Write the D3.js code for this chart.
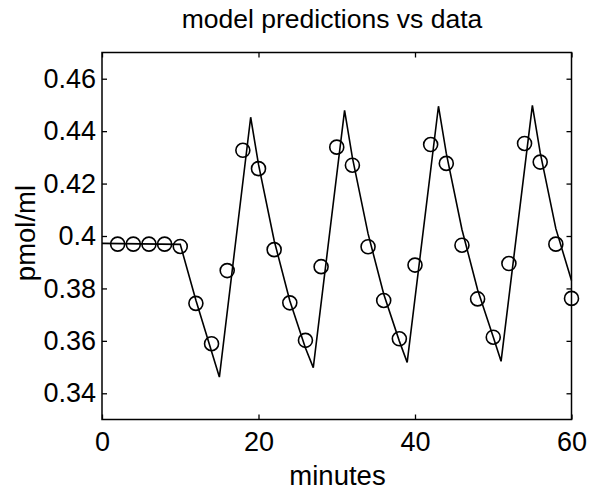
<!DOCTYPE html>
<html>
<head>
<meta charset="utf-8">
<script src="https://cdn.jsdelivr.net/npm/d3@7"></script>
<style>
    body { margin: 0; background: #fff; }
    text { font-family: "Liberation Sans", Arial, sans-serif; fill: #000; }
</style>
</head>
<body>
<div id="plot"></div>
<script>
// observed data (circles), sampled every 2 minutes
const dataMinutes = [2, 4, 6, 8, 10, 12, 14, 16, 18, 20, 22, 24, 26, 28, 30,
    32, 34, 36, 38, 40, 42, 44, 46, 48, 50, 52, 54, 56, 58, 60];
const dataValues = [0.3969, 0.3969, 0.3969, 0.3969, 0.3960, 0.3743, 0.3589, 0.3868, 0.4327, 0.4257,
    0.3948, 0.3745, 0.3602, 0.3883, 0.4339, 0.4270, 0.3959, 0.3754, 0.3608, 0.3889,
    0.4349, 0.4277, 0.3965, 0.3760, 0.3614, 0.3895, 0.4353, 0.4282, 0.3969, 0.3762];

// model prediction (line), read at its corners and along the decays
const modelMinutes = [0, 10, 12, 15, 19, 20, 22, 24, 26, 27, 31, 32, 34, 36, 38, 39,
    43, 44, 46, 48, 50, 51, 55, 56, 58, 60];
const modelValues = [0.3972, 0.3968, 0.3755, 0.3462, 0.4453, 0.4273, 0.3983, 0.3753, 0.3573, 0.3498,
    0.4479, 0.4299, 0.4009, 0.3779, 0.3599, 0.3518, 0.4495, 0.4315, 0.4025, 0.3795,
    0.3615, 0.3522, 0.4498, 0.4318, 0.4028, 0.3830];

const xTicks = [0, 20, 40, 60];
const yTicks = [0.34, 0.36, 0.38, 0.40, 0.42, 0.44, 0.46];

const W = 591, H = 495;
const margin = {top: 52.5, right: 19.5, bottom: 75.5, left: 102};
const width = W - margin.left - margin.right;
const height = H - margin.top - margin.bottom;

const svg = d3.select('#plot')
    .append('svg')
    .attr('width', W)
    .attr('height', H);

const g = svg.append('g')
    .attr('transform', `translate(${margin.left},${margin.top})`);

const x = d3.scaleLinear().domain([0, 60]).range([0, width]);
const y = d3.scaleLinear().domain([0.33, 0.47]).range([height, 0]);

const fmtY = d => d === 0.4 ? '0.4' : d3.format('.2f')(d);

// axes with inward ticks, matlab style
const axisStyle = sel => {
    sel.select('.domain').remove();
    sel.selectAll('line').attr('stroke', '#000').attr('stroke-width', 1.3);
};

g.append('g')
    .attr('transform', `translate(0,${height})`)
    .call(d3.axisBottom(x).tickValues(xTicks).tickSize(-5).tickPadding(12).tickFormat(d3.format('d')))
    .call(axisStyle)
    .selectAll('text')
    .attr('font-size', '27px');

g.append('g')
    .call(d3.axisTop(x).tickValues(xTicks).tickSize(-5).tickFormat(''))
    .call(axisStyle);

g.append('g')
    .call(d3.axisLeft(y).tickValues(yTicks).tickSize(-5).tickPadding(6).tickFormat(fmtY))
    .call(axisStyle)
    .selectAll('text')
    .attr('font-size', '27px');

g.append('g')
    .attr('transform', `translate(${width},0)`)
    .call(d3.axisRight(y).tickValues(yTicks).tickSize(-5).tickFormat(''))
    .call(axisStyle);

g.append('rect')
    .attr('width', width)
    .attr('height', height)
    .attr('fill', 'none')
    .attr('stroke', '#000')
    .attr('stroke-width', 1.5);

const modelData = modelMinutes.map((t, i) => ({t, v: modelValues[i]}));
const obsData = dataMinutes.map((t, i) => ({t, v: dataValues[i]}));

g.append('path')
    .datum(modelData)
    .attr('fill', 'none')
    .attr('stroke', '#000')
    .attr('stroke-width', 1.6)
    .attr('d', d3.line().x(d => x(d.t)).y(d => y(d.v)));

g.selectAll('.obs')
    .data(obsData)
    .enter()
    .append('circle')
    .attr('class', 'obs')
    .attr('cx', d => x(d.t))
    .attr('cy', d => y(d.v))
    .attr('r', 7)
    .attr('fill', 'none')
    .attr('stroke', '#000')
    .attr('stroke-width', 1.6);

svg.append('text')
    .attr('x', 332)
    .attr('y', 27.5)
    .attr('text-anchor', 'middle')
    .attr('font-size', '26.5px')
    .text('model predictions vs data');

svg.append('text')
    .attr('x', 337.5)
    .attr('y', 485)
    .attr('text-anchor', 'middle')
    .attr('font-size', '27.5px')
    .text('minutes');

svg.append('text')
    .attr('transform', 'translate(35,233) rotate(-90)')
    .attr('text-anchor', 'middle')
    .attr('font-size', '27.5px')
    .text('pmol/ml');
</script>
</body>
</html>
